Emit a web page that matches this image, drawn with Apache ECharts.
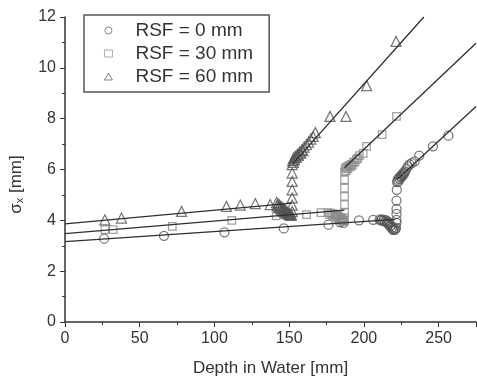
<!DOCTYPE html>
<html>
<head>
<meta charset="utf-8">
<script src="https://cdn.jsdelivr.net/npm/echarts@6/dist/echarts.min.js"></script>
<style>
  html, body { margin: 0; padding: 0; background: #fff; }
  #chart { width: 477px; height: 383px; }
</style>
</head>
<body>
<div id="chart"></div>
<script>
// measured points, [depth mm, sigma_x mm]
const rsf0 = [
  [26.2, 3.28], [66.2, 3.39], [106.7, 3.53], [146.4, 3.68], [176.3, 3.83],
  [184, 3.92], [186.5, 3.9], [196.7, 4.0], [206.2, 4.02], [210.5, 4.03],
  [211.3, 4.0], [212, 4.04], [212.8, 3.98], [213.5, 4.02], [214.2, 3.95],
  [215, 4.0], [215.6, 3.9], [216, 3.95], [216.6, 3.84], [217, 3.88],
  [217.6, 3.76], [218, 3.8], [218.6, 3.7], [219, 3.72], [219.4, 3.62],
  [219.8, 3.65], [220.5, 3.62], [221, 3.66], [221.5, 3.7],
  [221.8, 3.9], [221.8, 4.02], [221.8, 4.25], [221.8, 4.45], [221.8, 4.78],
  [222, 5.2], [222.2, 5.5], [222.6, 5.6], [223, 5.52], [223.5, 5.68],
  [224, 5.62], [224.5, 5.73], [225, 5.7], [225.5, 5.8], [226, 5.76],
  [226.5, 5.88], [227, 5.84], [227.5, 5.93], [228.5, 6.03], [229.5, 6.12],
  [230.5, 6.2], [232, 6.25], [234, 6.32], [237, 6.55], [246.2, 6.91],
  [256.5, 7.33]
];
const rsf30 = [
  [26.7, 3.63], [32.2, 3.63], [71.8, 3.76], [111.6, 4.0], [141.3, 4.18],
  [161.6, 4.22], [171.3, 4.3], [176, 4.3], [177, 4.22], [178, 4.28],
  [179, 4.2], [180, 4.25], [180.8, 4.15], [181.5, 4.22], [182.3, 4.1],
  [183, 4.18], [183.8, 4.05], [184.5, 4.12], [185, 4.0], [185.5, 4.05],
  [186, 3.95], [186.5, 3.98],
  [187, 4.1], [187, 4.3], [187, 4.62], [187, 4.94], [187, 5.27],
  [187, 5.6], [187, 5.9], [187.5, 6.05], [188, 5.95], [188.5, 6.1],
  [189.2, 6.02], [190, 6.15], [190.8, 6.1], [191.5, 6.2], [192.2, 6.16],
  [193, 6.28], [194, 6.3], [195, 6.4], [196, 6.45], [197, 6.55],
  [199.5, 6.63], [201.8, 6.91], [212.2, 7.37], [221.8, 8.09]
];
const rsf60 = [
  [26.7, 4.02], [37.8, 4.09], [78, 4.35], [108, 4.55], [117.3, 4.6],
  [127.3, 4.66], [137.3, 4.62], [141.5, 4.7], [142, 4.58], [142.5, 4.65],
  [143, 4.52], [143.5, 4.6], [144, 4.46], [144.5, 4.55], [145, 4.4],
  [145.5, 4.5], [146, 4.36], [146.5, 4.45], [147, 4.32], [147.5, 4.4],
  [148, 4.28], [148.5, 4.35], [149, 4.25], [149.5, 4.3], [150, 4.22],
  [150.5, 4.25], [151, 4.2], [151.5, 4.22],
  [152, 4.35], [152, 4.6], [152, 4.88], [152, 5.2], [152, 5.53],
  [152, 5.86], [152, 6.19], [152.3, 6.35], [152.8, 6.28], [153, 6.45],
  [153.6, 6.38], [154, 6.52], [154.8, 6.48], [155.5, 6.6], [156.2, 6.56],
  [157, 6.68], [157.8, 6.64], [158.5, 6.78], [159.2, 6.74], [160, 6.88],
  [161.5, 6.98], [163, 7.08], [164.5, 7.2], [166, 7.3], [167.5, 7.45],
  [177.3, 8.09], [188, 8.09], [201.8, 9.3], [221.5, 11.04]
];

// linear fits (end points)
const fit0Low = [[0, 3.16], [221, 4.04]];
const fit0High = [[222, 5.6], [275, 8.48]];
const fit30Low = [[0, 3.48], [187, 4.4]];
const fit30High = [[187, 6.07], [275, 10.97]];
const fit60Low = [[0, 3.86], [152, 4.68]];
const fit60High = [[152, 6.2], [240.1, 12]];

const legendNames = ["RSF = 0 mm", "RSF = 30 mm", "RSF = 60 mm"];

const chart = echarts.init(document.getElementById("chart"));
const ink = "#333";
const font = "Liberation Sans";

const fitLine = (data) => ({
  type: "line",
  data: data,
  symbol: "none",
  silent: true,
  lineStyle: { color: "#2e2e2e", width: 1.3 },
  z: 3,
});

const pts = (name, data, symbol, size, color) => ({
  name: name,
  type: "scatter",
  data: data,
  symbol: symbol,
  symbolSize: size,
  symbolKeepAspect: true,
  itemStyle: { color: "transparent", borderColor: color, borderWidth: 1.25 },
  z: 2,
});

chart.setOption({
  animation: false,
  backgroundColor: "#fff",
  textStyle: { fontFamily: font },
  grid: { left: 64, right: 1, top: 17, bottom: 61 },
  legend: {
    data: legendNames,
    orient: "vertical",
    left: 84,
    top: 15,
    borderColor: "#555",
    borderWidth: 1.5,
    borderRadius: 0,
    padding: [6, 16, 6, 20],
    itemGap: 4,
    itemWidth: 8,
    itemHeight: 7,
    symbolKeepAspect: true,
    itemStyle: { borderWidth: 0.9 },
    textStyle: {
      fontSize: 19, color: ink, fontFamily: font, lineHeight: 19,
      padding: [0, 0, 0, 18],
    },
  },
  xAxis: {
    type: "value",
    min: 0,
    max: 275,
    interval: 50,
    minorTick: { show: true, splitNumber: 2, length: 3, lineStyle: { color: ink } },
    axisLine: { onZero: false, lineStyle: { color: ink, width: 1.5 } },
    axisTick: { inside: false, length: 5, lineStyle: { color: ink } },
    axisLabel: { showMaxLabel: false, color: ink, fontSize: 16, margin: 9 },
    splitLine: { show: false },
    name: "Depth in Water [mm]",
    nameLocation: "middle",
    nameGap: 38,
    nameTextStyle: { fontSize: 17, color: ink },
  },
  yAxis: {
    type: "value",
    min: 0,
    max: 12,
    interval: 2,
    minorTick: { show: true, splitNumber: 2, length: 3, lineStyle: { color: ink } },
    axisLine: { onZero: false, lineStyle: { color: ink, width: 1.5 } },
    axisTick: { inside: false, length: 5, lineStyle: { color: ink } },
    axisLabel: { color: ink, fontSize: 16, margin: 9 },
    splitLine: { show: false },
    name: "{s|σ}{sub|x} [mm]",
    nameLocation: "middle",
    nameGap: 40,
    nameTextStyle: {
      fontSize: 17,
      color: ink,
      padding: [0, 30, 0, 0],
      rich: {
        s: { fontSize: 17, color: ink },
        sub: { fontSize: 11, color: ink, verticalAlign: "bottom", lineHeight: 12 },
      },
    },
  },
  series: [
    pts(legendNames[0], rsf0, "circle", 9, "#555"),
    pts(legendNames[1], rsf30, "rect", 7.5, "#8a8a8a"),
    pts(legendNames[2], rsf60, "triangle", 10, "#555"),
    fitLine(fit0Low),
    fitLine(fit0High),
    fitLine(fit30Low),
    fitLine(fit30High),
    fitLine(fit60Low),
    fitLine(fit60High),
  ],
});
</script>
</body>
</html>
